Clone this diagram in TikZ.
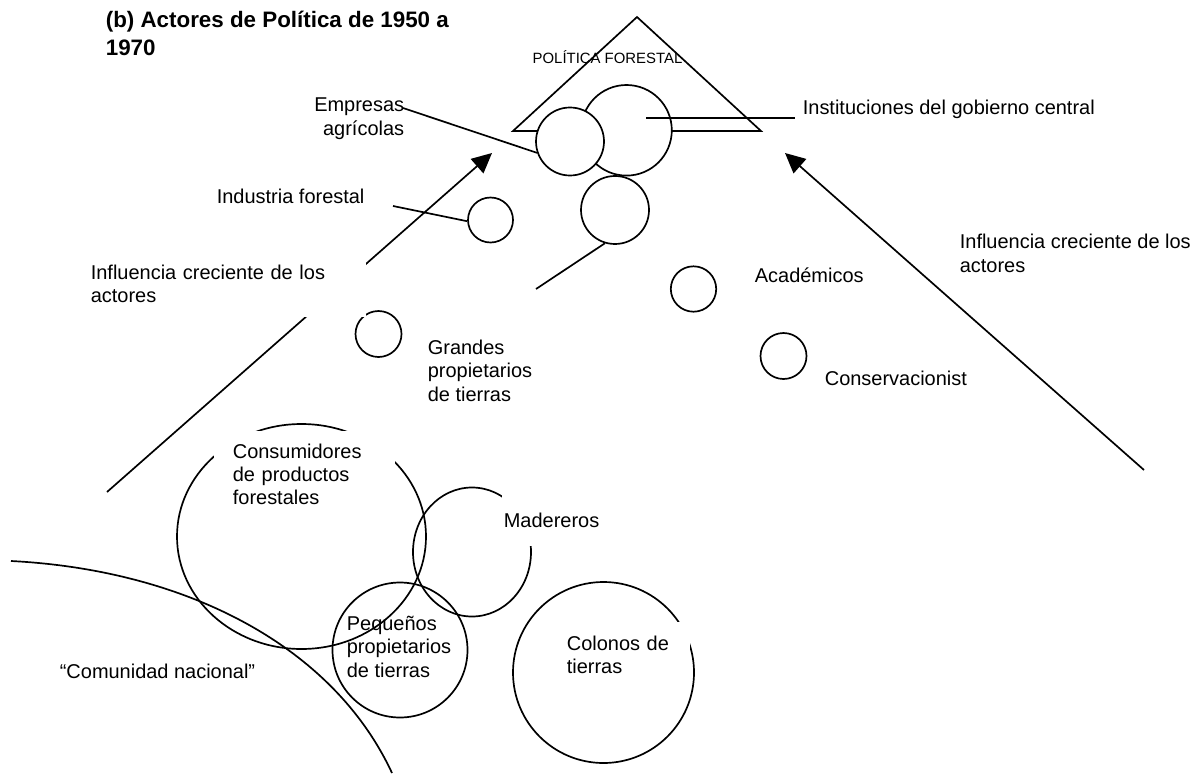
\documentclass[tikz,border=0pt]{standalone}
\usepackage{fontspec}
\setmainfont{Liberation Sans}
\usetikzlibrary{positioning,arrows.meta,shapes.geometric}
\newdimen\pxunit
\setlength{\pxunit}{0.025cm}
\newcommand{\txtfont}{\fontsize{14.2pt}{16.4pt}\selectfont}
\tikzstyle{actorstyle}=[shape=circle,draw,fill=white,inner sep=0pt]
\tikzstyle{groupstyle}=[draw,inner sep=0pt]
\tikzstyle{labelstyle}=[font=\txtfont,inner sep=0pt,align=left]
\tikzstyle{maskstyle}=[font=\txtfont,fill=white,align=left]
\tikzstyle{titlestyle}=[font=\fontsize{15.9pt}{19.9pt}\selectfont\bfseries,inner sep=0pt,align=left]
\tikzstyle{influstyle}=[-{Triangle[length=14.2pt,width=13.5pt]}]
\newcommand{\actor}[4]{ \draw (#2,#3) node [style=actorstyle,minimum size=#4\pxunit] (#1) {}; }
\newcommand{\actorgroup}[5]{ \draw (#2,#3) node [style=groupstyle,shape=ellipse,minimum width=#4\pxunit,minimum height=#5\pxunit] (#1) {}; }
\begin{document}
\begin{tikzpicture}[x=\pxunit,y=-\pxunit,line width=1.2pt]
\useasboundingbox (0,0) rectangle (1196,776); %
\node [style=titlestyle,anchor=base west] (title) at (105,55) {(b) Actores de Política de 1950 a\\1970}; %
% policy triangle
\draw (637,17) -- (513,131) -- (761,131) -- cycle; %
\node [font=\fontsize{10.6pt}{12pt}\selectfont,inner sep=0pt,anchor=base] (politica) at (607.5,63) {POLÍTICA FORESTAL}; %
\actor{inst}{626.5}{130.3}{90.6} %
\actor{empr}{570}{141.5}{68} %
\actor{agencia}{615}{210}{68} %
\actor{indu}{490.5}{220}{45} %
\actor{grand}{378.5}{334}{46} %
\actor{acad}{693.5}{289}{45.4} %
\actor{conserv}{783.5}{356}{46} %
% pointers
\coordinate (emprend) at (403,108); %
\coordinate (instin) at (646,118); %
\coordinate (instout) at (795,118); %
\coordinate (induend) at (393,206); %
\coordinate (agenend) at (536,289); %
\draw (emprend) -- (empr.199); %
\draw (instin) -- (instout); %
\draw (induend) -- (indu.183); %
\draw (agencia.253) -- (agenend); %
% influence arrows
\coordinate (leftfoot) at (107,492); %
\coordinate (lefthead) at (492,153); %
\coordinate (rightfoot) at (1144,470); %
\coordinate (righthead) at (785,153); %
\draw [style=influstyle] (leftfoot) -- (lefthead); %
\draw [style=influstyle] (rightfoot) -- (righthead); %
% lower groups
\actorgroup{consum}{301.5}{536.5}{249}{225} %
\actorgroup{mader}{472}{552}{118}{129} %
\draw (400,650) node [style=groupstyle,shape=circle,minimum size=135\pxunit] (peque) {}; %
\draw (603.5,672.5) node [style=groupstyle,shape=circle,minimum size=181\pxunit] (colon) {}; %
\draw (11,561) .. controls (186,570) and (333,646) .. (392,773); %
% labels
\node [style=maskstyle,text width=255\pxunit,inner xsep=20\pxunit,inner ysep=15\pxunit,anchor=base west] (influleft) at (70,279) {Influencia creciente de los\\actores}; %
\node [style=labelstyle,anchor=base west] (influright) at (959,272) {Influencia creciente de los\\actores}; %
\node [style=labelstyle,align=right,anchor=base east] (emprtext) at (405,135) {Empresas\\agrícolas}; %
\node [style=labelstyle,anchor=base west] (insttext) at (802,114) {Instituciones del gobierno central}; %
\node [style=labelstyle,anchor=base west] (indutext) at (216,203) {Industria forestal}; %
\node [style=labelstyle,anchor=base west] (acadtext) at (754,282) {Académicos}; %
\node [style=labelstyle,anchor=base west] (conservtext) at (824,385) {Conservacionist}; %
\node [style=labelstyle,anchor=base west] (grandtext) at (427,401) {Grandes\\propietarios\\de tierras}; %
\node [style=maskstyle,text width=143\pxunit,inner xsep=19\pxunit,inner ysep=13\pxunit,anchor=base west] (consumtext) at (213,458) {Consumidores\\de productos\\forestales}; %
\node [style=maskstyle,inner xsep=2\pxunit,inner ysep=19\pxunit,anchor=base west] (madertext) at (501,527) {Madereros}; %
\node [style=labelstyle,anchor=base west] (pequetext) at (346,677) {Pequeños\\propietarios\\de tierras}; %
\node [style=maskstyle,text width=105\pxunit,inner xsep=18\pxunit,inner ysep=14\pxunit,anchor=base west] (colontext) at (548,650) {Colonos de\\tierras}; %
\node [style=labelstyle,anchor=base west] (comunidad) at (59,678) {“Comunidad nacional”}; %
\end{tikzpicture}
\end{document}
